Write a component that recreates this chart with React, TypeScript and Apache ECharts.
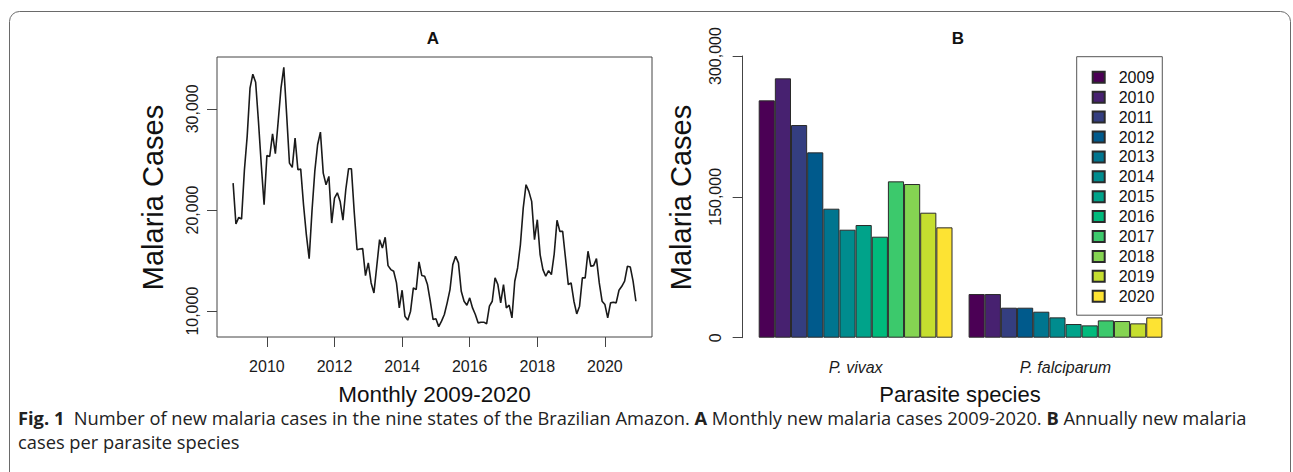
import React, { useEffect, useRef } from "react";
import * as echarts from "echarts";

// ---------- data ----------
const startYear = 2009;
// monthly new malaria cases, Jan 2009 .. Dec 2020
const monthlyCases = [
  22660, 18615, 19270, 19110, 23900, 27300, 32040, 33420, 32630, 28750, 24470, 20520, // 2009
  25390, 25290, 27530, 25560, 28750, 32040, 34100, 29450, 24640, 24210, 27100, 23980, // 2010
  24040, 20520, 17560, 15190, 19870, 23810, 26450, 27700, 23650, 22500, 23320, 18710, // 2011
  21180, 21700, 20850, 19000, 22000, 24080, 24080, 19800, 16080, 16150, 16180, 13520, // 2012
  14770, 12790, 11800, 14440, 17070, 16250, 17300, 14500, 14110, 13940, 12790, 10330, // 2013
  12070, 9500, 9110, 10000, 12300, 12130, 14870, 13520, 13450, 12630, 11000, 9170, // 2014
  9240, 8470, 9010, 9670, 10820, 12130, 14600, 15420, 14770, 11970, 10980, 10590, // 2015
  11310, 10320, 9670, 8840, 8910, 8910, 8750, 10490, 10980, 13290, 12630, 10820, // 2016
  12630, 10320, 10590, 9340, 12960, 14270, 16580, 20190, 22500, 21840, 20850, 17070, // 2017
  19040, 15590, 14110, 13450, 14010, 13610, 15650, 18980, 17890, 17890, 15260, 12630, // 2018
  12790, 10980, 9730, 10490, 13290, 13290, 15920, 14440, 14500, 15190, 12790, 10980, // 2019
  10650, 9340, 10820, 10880, 10820, 12070, 12460, 12960, 14440, 14370, 12960, 10980, // 2020
];
const monthlyXTicks = [2010, 2012, 2014, 2016, 2018, 2020];
const monthlyYTicks = [10000, 20000, 30000];

const yearLabels = ["2009", "2010", "2011", "2012", "2013", "2014", "2015", "2016", "2017", "2018", "2019", "2020"];
const speciesLabels = ["P. vivax", "P. falciparum"];
const vivaxCases = [252760, 276190, 226490, 197380, 137390, 115020, 119990, 107570, 166500, 163660, 133130, 117510];
const falciparumCases = [46500, 46500, 31950, 31950, 27690, 21660, 14560, 13140, 18460, 17750, 15270, 21660];
const yearColors = [
  "#4B0055", "#472170", "#343E80", "#005A8C", "#00758F", "#008C8E",
  "#00A38A", "#00BA7C", "#3CC96C", "#85D452", "#C5DE2F", "#FDE333",
];

const FONT = "'Liberation Sans', Arial, sans-serif";
const CAPTION_FONT = "'Open Sans', sans-serif";
const fmt = (v: number) => Math.round(v).toLocaleString("en-US");

export default function App() {
  const ref = useRef<HTMLDivElement | null>(null);

  useEffect(() => {
    if (!ref.current) return;
    const chart = echarts.init(ref.current, null, { renderer: "svg" });

    const n = monthlyCases.length;
    const xFirst = startYear;
    const xLast = startYear + (n - 1) / 12;
    const xPad = (xLast - xFirst) * 0.04;
    const yMin = Math.min(...monthlyCases);
    const yMax = Math.max(...monthlyCases);
    const yPad = (yMax - yMin) * 0.04;

    const axisColor = "#444";
    const labelColor = "#1a1a1a";

    const option: any = {
      animation: false,
      backgroundColor: "#ffffff",
      textStyle: { fontFamily: FONT },
      grid: [
        { left: 217, top: 57, width: 435, height: 280, show: true, borderColor: axisColor, borderWidth: 1, backgroundColor: "transparent" },
        { left: 750.65, top: 56, width: 419.8, height: 281.7 },
      ],
      xAxis: [
        {
          type: "value", gridIndex: 0, min: xFirst - xPad, max: xLast + xPad,
          axisLine: { show: false }, splitLine: { show: false },
          axisTick: { show: true, length: 10, lineStyle: { color: axisColor }, customValues: monthlyXTicks },
          axisLabel: { customValues: monthlyXTicks, margin: 21, fontSize: 16, color: labelColor, fontFamily: FONT, formatter: (v: number) => String(v) },
        },
        {
          type: "category", gridIndex: 1, data: speciesLabels,
          axisLine: { show: false }, axisTick: { show: false }, splitLine: { show: false },
          axisLabel: { margin: 22, fontSize: 16, fontStyle: "italic", color: labelColor, fontFamily: FONT },
        },
      ],
      yAxis: [
        {
          type: "value", gridIndex: 0, min: yMin - yPad, max: yMax + yPad,
          axisLine: { show: false }, splitLine: { show: false },
          axisTick: { show: true, length: 10, lineStyle: { color: axisColor }, customValues: monthlyYTicks },
          axisLabel: { customValues: monthlyYTicks, rotate: 90, margin: 17, fontSize: 16, color: labelColor, fontFamily: FONT, formatter: fmt },
        },
        {
          type: "value", gridIndex: 1, min: 0, max: 300000, interval: 150000, offset: 8,
          axisLine: { show: true, lineStyle: { color: axisColor } }, splitLine: { show: false },
          axisTick: { show: true, length: 10, lineStyle: { color: axisColor } },
          axisLabel: { rotate: 90, margin: 19, fontSize: 16, color: labelColor, fontFamily: FONT, formatter: fmt },
        },
      ],
      legend: {
        data: yearLabels, orient: "vertical", left: 1076.7, top: 56.7,
        padding: [12.6, 8, 11, 15], itemWidth: 12, itemHeight: 11, itemGap: 3.9,
        icon: "rect", selectedMode: false,
        borderColor: "#555", borderWidth: 1, backgroundColor: "#fff",
        textStyle: { fontSize: 16, lineHeight: 16, color: "#111", fontFamily: FONT, padding: [0, 0, 0, 9] },
      },
      series: [
        {
          type: "line", xAxisIndex: 0, yAxisIndex: 0, showSymbol: false, symbol: "none",
          data: monthlyCases.map((v, i) => [startYear + i / 12, v]),
          lineStyle: { color: "#1a1a1a", width: 1.6 },
        },
        ...yearLabels.map((y, k) => ({
          name: y, type: "bar", xAxisIndex: 1, yAxisIndex: 1,
          data: [vivaxCases[k], falciparumCases[k]],
          barWidth: 16.15, barGap: "0%",
          itemStyle: { color: yearColors[k], borderColor: "#2a2a2a", borderWidth: 1 },
        })),
      ],
      graphic: [
        { type: "rect", silent: true, z: -10, shape: { x: 9.5, y: 11.5, width: 1281, height: 480, r: 10 }, style: { fill: "none", stroke: "#6a6a6a", lineWidth: 1 } },
        { type: "text", x: 433, y: 38, style: { text: "A", font: `bold 17px ${FONT}`, fill: "#111", align: "center", verticalAlign: "middle" } },
        { type: "text", x: 958, y: 38, style: { text: "B", font: `bold 17px ${FONT}`, fill: "#111", align: "center", verticalAlign: "middle" } },
        { type: "text", x: 153, y: 197.5, rotation: Math.PI / 2, style: { text: "Malaria Cases", font: `29px ${FONT}`, fill: "#111", align: "center", verticalAlign: "middle" } },
        { type: "text", x: 681, y: 197.5, rotation: Math.PI / 2, style: { text: "Malaria Cases", font: `29px ${FONT}`, fill: "#111", align: "center", verticalAlign: "middle" } },
        { type: "text", x: 434.5, y: 394, style: { text: "Monthly 2009-2020", font: `22.5px ${FONT}`, fill: "#111", align: "center", verticalAlign: "middle" } },
        { type: "text", x: 960, y: 394, style: { text: "Parasite species", font: `22px ${FONT}`, fill: "#111", align: "center", verticalAlign: "middle" } },
        {
          type: "text", x: 18, y: 417,
          style: {
            text: "{b|Fig. 1}  Number of new malaria cases in the nine states of the Brazilian Amazon. {b|A} Monthly new malaria cases 2009-2020. {b|B} Annually new malaria",
            font: `18.3px ${CAPTION_FONT}`, fill: "#222", align: "left", verticalAlign: "middle",
            rich: { b: { fontWeight: "bold", fontFamily: CAPTION_FONT, fontSize: 18.3, fill: "#222" } },
          },
        },
        { type: "text", x: 18, y: 441, style: { text: "cases per parasite species", font: `18.3px ${CAPTION_FONT}`, fill: "#222", align: "left", verticalAlign: "middle" } },
      ],
    };

    chart.setOption(option);
    return () => chart.dispose();
  }, []);

  return (
    <div
      ref={ref}
      style={{ position: "fixed", left: 0, top: 0, width: 1293, height: 472, background: "#fff" }}
    />
  );
}
